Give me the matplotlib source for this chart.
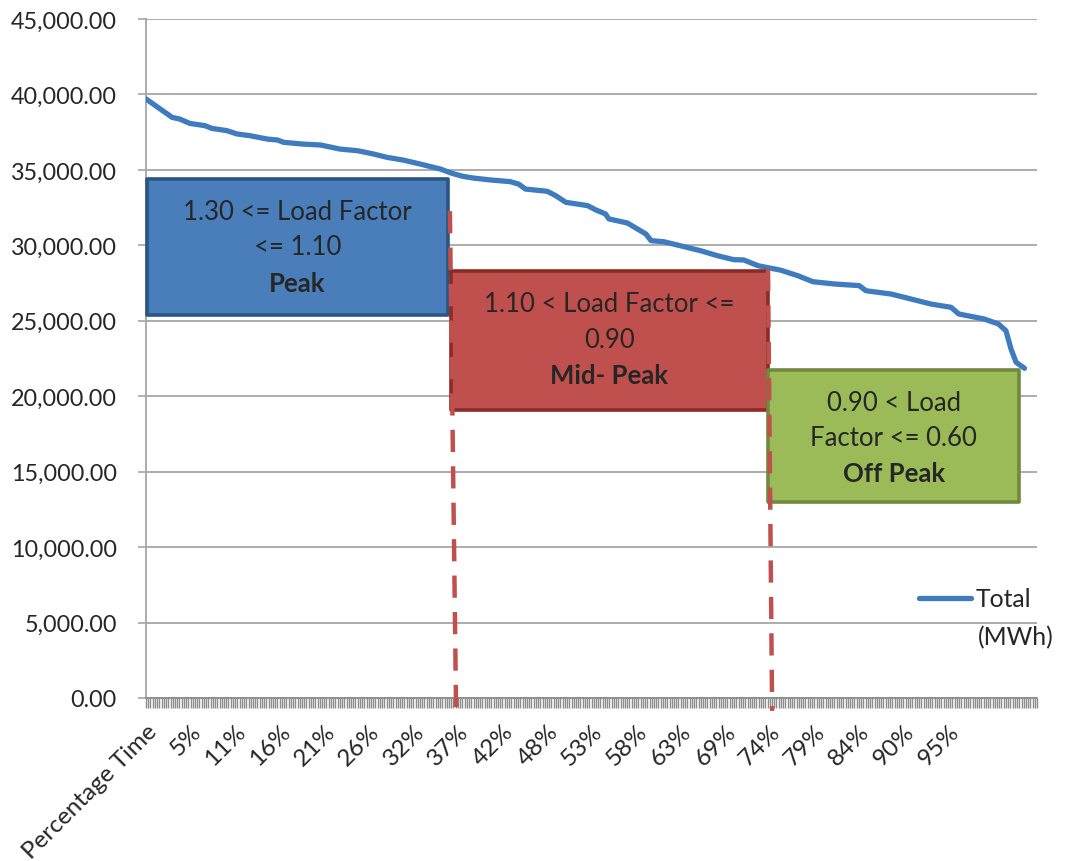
import matplotlib
matplotlib.use("Agg")
import matplotlib.pyplot as plt
from matplotlib.patches import Rectangle
from matplotlib.ticker import FuncFormatter, MultipleLocator

plt.rcParams['font.family'] = ['Lato', 'DejaVu Sans']

# load duration curve (x = position in % time, y = MWh)
pct_time = [0, 1.7, 3.1, 4.0, 5.2, 7.0, 7.8, 9.6, 10.8, 12.4, 14.4, 15.6, 16.3,
            18.6, 20.7, 23.0, 25.1, 27.0, 28.6, 30.5, 32.5, 34.9, 36.3, 37.6,
            38.8, 40.9, 43.2, 44.2, 45.0, 47.6, 48.6, 49.8, 52.4, 53.3, 54.5,
            54.9, 57.1, 58.3, 59.3, 59.9, 61.4, 63.4, 65.8, 67.8, 69.7, 70.9,
            72.6, 75.3, 77.3, 79.1, 81.6, 84.6, 85.4, 88.4, 90.4, 93.1, 95.5,
            96.4, 99.4, 101.1, 102.0, 102.6, 103.2, 104.2]
total_mwh = [39700, 39030, 38480, 38370, 38080, 37930, 37750, 37600, 37380,
             37260, 37040, 36980, 36830, 36710, 36650, 36380, 36270, 36050,
             35830, 35650, 35390, 35060, 34770, 34570, 34460, 34330, 34220,
             34060, 33730, 33580, 33290, 32850, 32630, 32360, 32080, 31750,
             31480, 31080, 30750, 30310, 30240, 29970, 29640, 29310, 29050,
             29030, 28650, 28350, 27990, 27590, 27440, 27330, 26990, 26770,
             26490, 26110, 25890, 25450, 25120, 24790, 24340, 23130, 22250,
             21850]

tick_labels = ['Percentage Time', '5%', '11%', '16%', '21%', '26%', '32%', '37%',
               '42%', '48%', '53%', '58%', '63%', '69%', '74%', '79%', '84%',
               '90%', '95%']
label_step = 5.285   # % time between labelled categories

blue = '#3F7BBF'
red = '#C0504D'
grid_grey = '#A6A6A6'
txt = '#262626'
fs = 18.5

fig = plt.figure(figsize=(10.69, 8.62), dpi=100)
ax = fig.add_axes([0.1366, 0.1891, 0.8336, 0.7877])

ax.plot(pct_time, total_mwh, color=blue, linewidth=3.8, solid_capstyle='round',
        solid_joinstyle='round', zorder=3)

ax.set_xlim(0, label_step * 20)
ax.set_ylim(0, 45000)
ax.yaxis.set_major_locator(MultipleLocator(5000))
ax.yaxis.set_major_formatter(FuncFormatter(lambda v, p: f'{v:,.2f}'))
ax.grid(axis='y', color=grid_grey, linewidth=1.3)
ax.set_axisbelow(True)

ax.set_xticks([i * label_step for i in range(len(tick_labels))])
ax.set_xticklabels(tick_labels, rotation=45, ha='right', rotation_mode='anchor')
ax.xaxis.set_minor_locator(MultipleLocator(label_step / 20))
ax.tick_params(axis='x', which='both', direction='out', length=7, width=1.0,
               color='#8C8C8C', pad=9, labelsize=17.5, labelcolor=txt)
ax.tick_params(axis='y', which='major', direction='out', length=6, width=1.2,
               color=grid_grey, pad=15, labelsize=16.8, labelcolor=txt)

for s in ['top', 'right']:
    ax.spines[s].set_visible(False)
ax.spines['left'].set_color(grid_grey)
ax.spines['left'].set_linewidth(1.3)
ax.spines['bottom'].set_color('#8C8C8C')
ax.spines['bottom'].set_linewidth(1.3)

# tariff period boxes (axes fraction)
boxes = [
    ((0.001, 0.564), 0.338, 0.200, '#4A7EBB', '#2A5585',
     ['1.30 <= Load Factor', '<= 1.10'], 'Peak', [0.717, 0.665, 0.611]),
    ((0.342, 0.424), 0.356, 0.205, red, '#8C2A26',
     ['1.10 < Load Factor <=', '0.90'], 'Mid- Peak', [0.581, 0.528, 0.475]),
    ((0.698, 0.289), 0.282, 0.194, '#9BBB59', '#71893F',
     ['0.90 < Load', 'Factor <= 0.60'], 'Off Peak', [0.435, 0.384, 0.332]),
]
for (x0, y0), w, h, fc, ec, lines, title, ys in boxes:
    ax.add_patch(Rectangle((x0, y0), w, h, transform=ax.transAxes, facecolor=fc,
                           edgecolor=ec, linewidth=2.6, joinstyle='round',
                           zorder=5, clip_on=False))
    xc = x0 + w / 2
    for line, yy in zip(lines, ys):
        ax.text(xc, yy, line, transform=ax.transAxes, ha='center', va='center',
                fontsize=fs, color=txt, zorder=6)
    ax.text(xc, ys[2], title, transform=ax.transAxes, ha='center', va='center',
            fontsize=fs, fontweight='bold', color=txt, zorder=6)

# dashed period boundaries
for xs, ys in [([0.341, 0.348], [0.717, -0.024]), ([0.698, 0.7026], [0.632, -0.019])]:
    ax.plot(xs, ys, transform=ax.transAxes, color=red, linewidth=3.2,
            dashes=(5.0, 3.2), clip_on=False, zorder=7)

leg = ax.legend(['Total'], loc='upper left', bbox_to_anchor=(0.867, 0.163),
                frameon=False, handlelength=2.1, handletextpad=0.2,
                borderpad=0, borderaxespad=0, fontsize=17.8)
for t in leg.get_texts():
    t.set_color(txt)
ax.text(0.934, 0.09, '(MWh)', transform=ax.transAxes, ha='left', va='center',
        fontsize=17.8, color=txt)

fig.savefig('out.png', dpi=100)
